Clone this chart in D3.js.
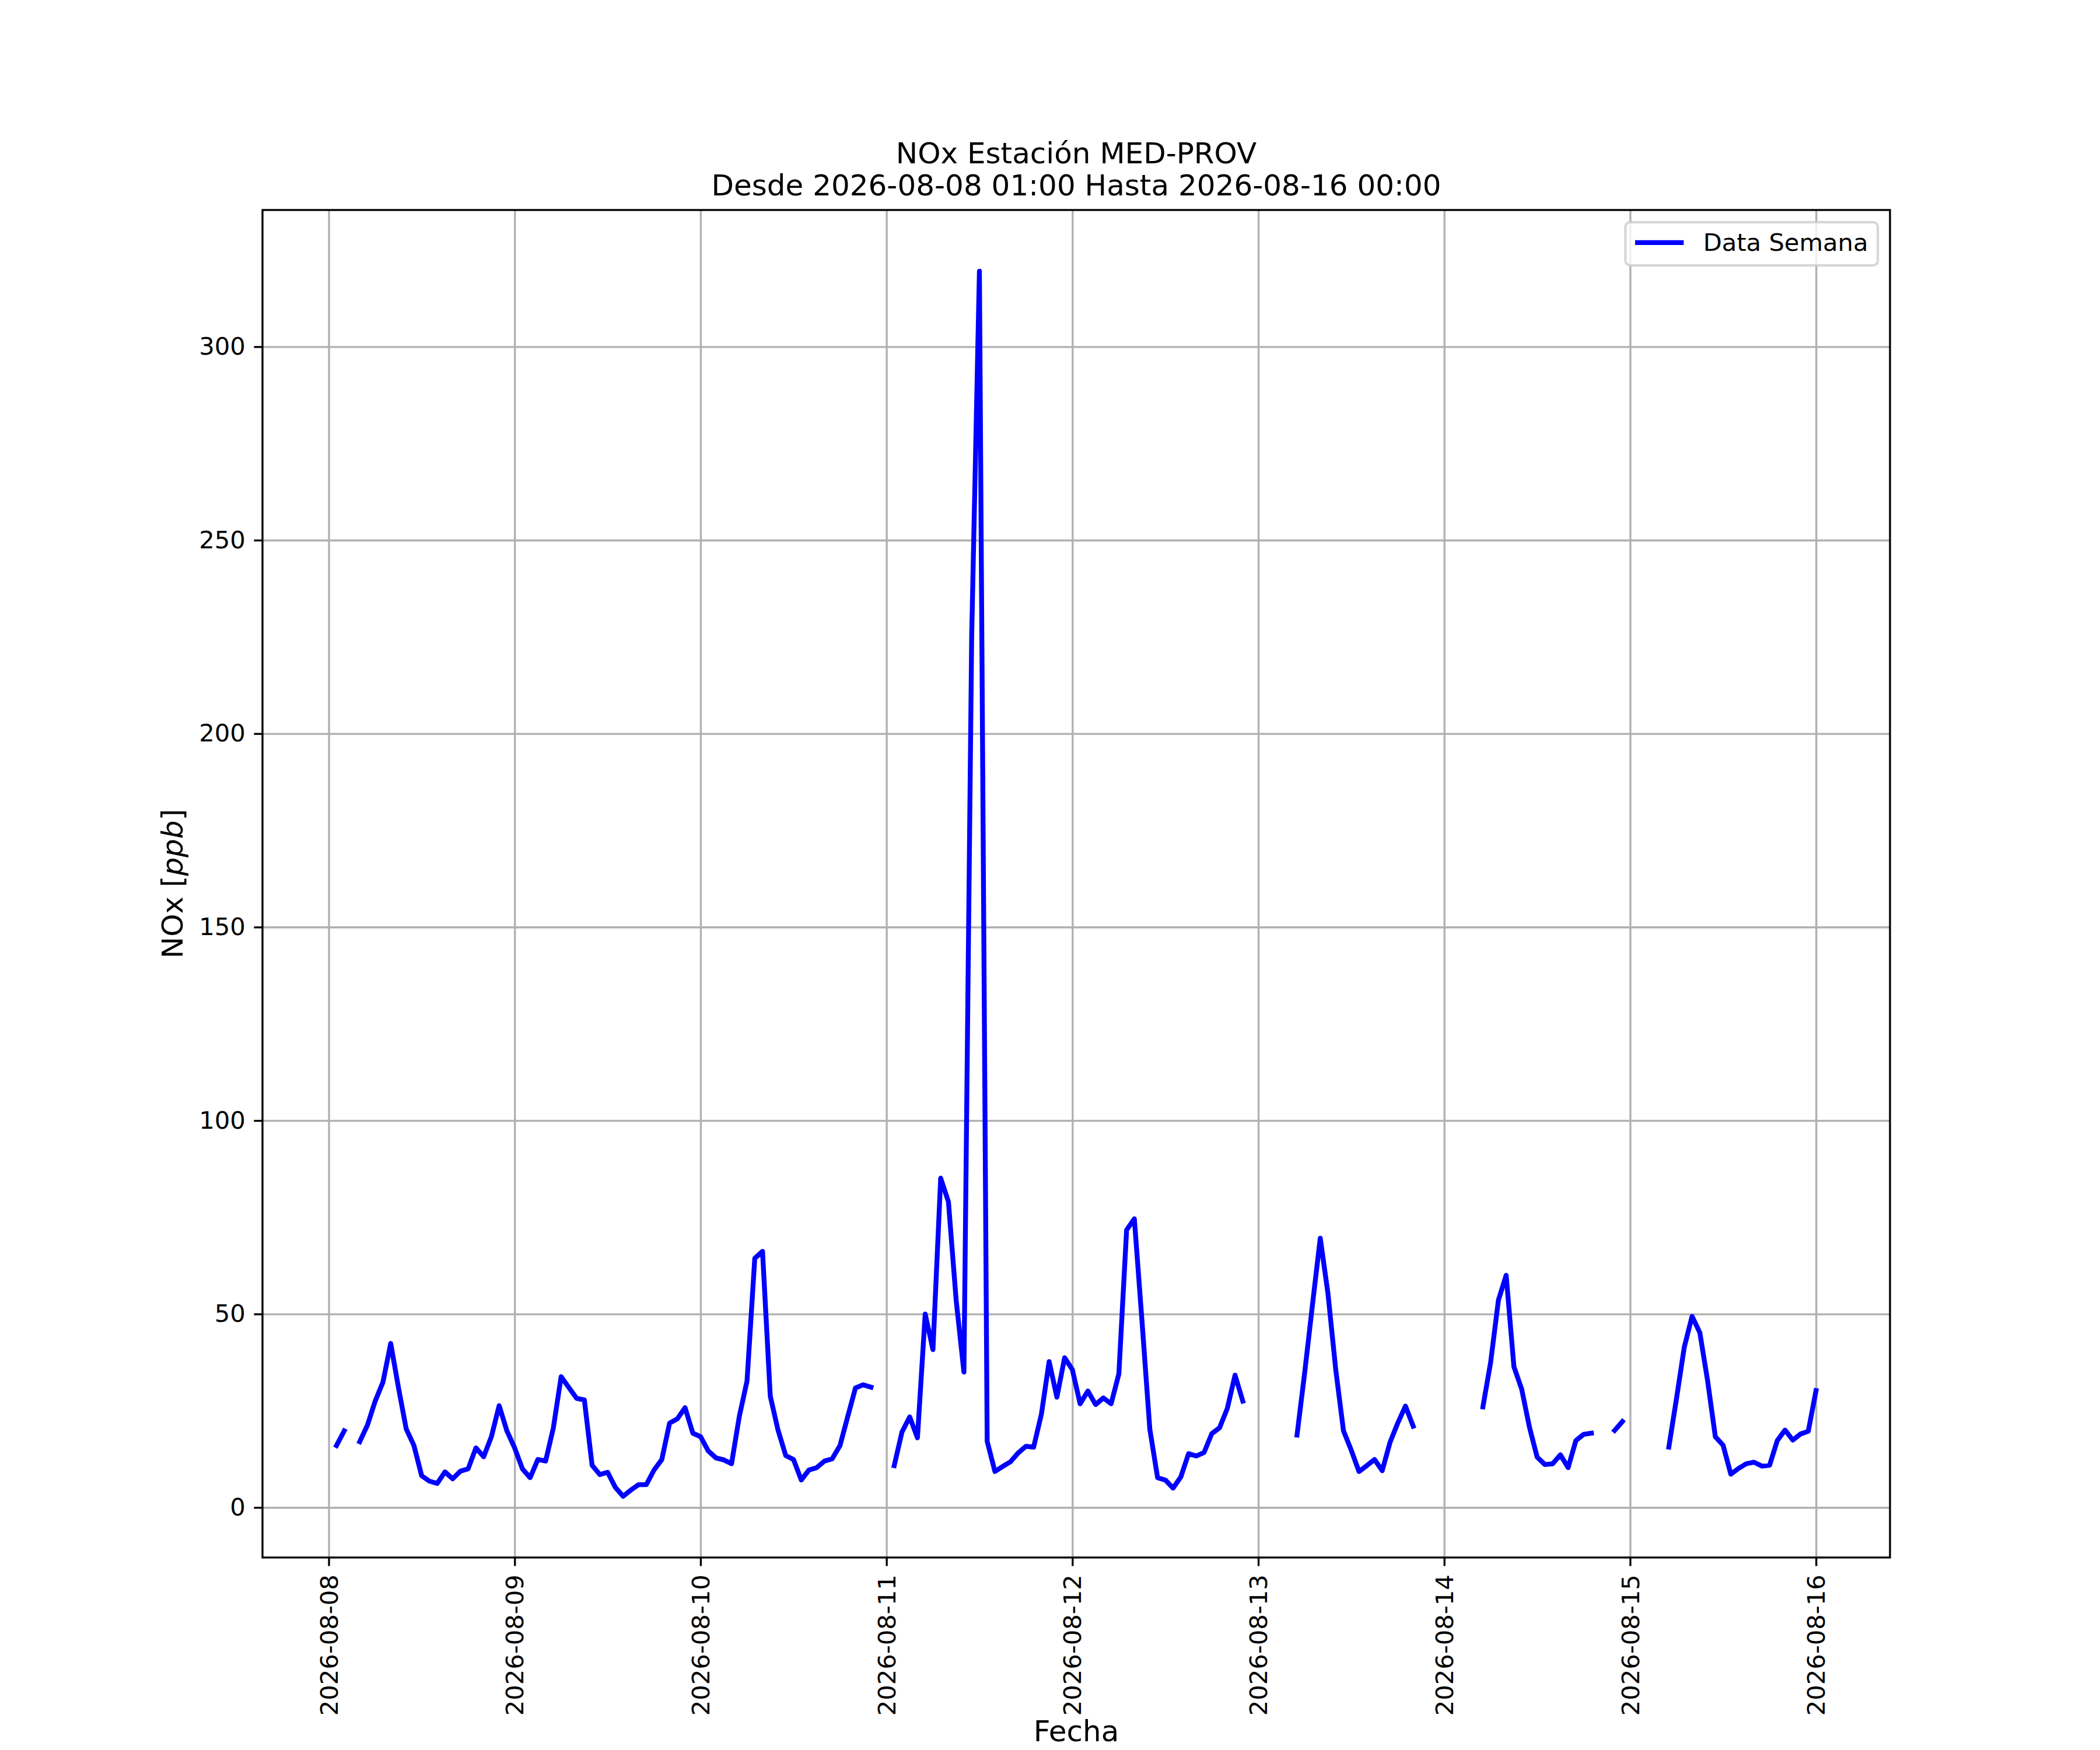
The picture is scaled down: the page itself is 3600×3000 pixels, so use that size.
<!DOCTYPE html>
<html>
<head>
<meta charset="utf-8">
<script src="https://cdn.jsdelivr.net/npm/d3@7"></script>
<style>
  body { margin: 0; background: #fff; }
  text { font-family: "DejaVu Sans", sans-serif; fill: #000; }
</style>
</head>
<body>
<div class="nox-chart"></div>
<script>
// hourly readings, first one at 2026-08-08 01:00, last at 2026-08-16 00:00
// null = no data for that hour
var firstHour = "2026-08-08T01:00:00Z";
var nox = [
  16.0, 19.8, null, 17.0, 21.3, 27.5, 32.4, 42.4, 31.0, 20.3, 16.0, 8.2,
  6.8, 6.2, 9.2, 7.4, 9.4, 10.0, 15.4, 13.1, 18.3, 26.3, 19.8, 15.4,
  10.0, 7.7, 12.4, 12.0, 20.6, 33.8, 31.0, 28.2, 27.8, 10.9, 8.5, 9.1,
  5.2, 2.9, 4.5, 5.9, 5.9, 9.7, 12.4, 21.8, 22.9, 25.8, 19.2, 18.3,
  14.6, 12.8, 12.3, 11.3, 23.5, 32.7, 64.4, 66.2, 28.8, 20.0, 13.4, 12.4,
  7.1, 9.7, 10.3, 12.0, 12.6, 16.0, 23.5, 30.9, 31.7, 31.1, null, null,
  10.8, 19.5, 23.4, 18.0, 50.0, 40.8, 85.1, 79.0, 53.5, 35.0, 225.0, 319.5,
  17.1, 9.3, 10.6, 11.8, 14.1, 15.8, 15.6, 24.1, 37.7, 28.5, 38.7, 35.6,
  26.8, 30.1, 26.6, 28.3, 26.8, 34.5, 71.7, 74.6, 47.8, 20.2, 7.7, 7.1,
  5.0, 7.9, 13.9, 13.3, 14.2, 19.1, 20.6, 25.6, 34.2, 27.5, null, null,
  null, null, null, null, 18.7, 35.0, 52.5, 69.6, 55.2, 35.6, 19.8, 14.8,
  9.3, 10.8, 12.4, 9.5, 16.8, 21.8, 26.2, 21.0, null, null, null, null,
  null, null, null, null, 26.0, 37.6, 53.6, 60.0, 36.4, 30.6, 20.8, 13.0,
  11.1, 11.3, 13.6, 10.3, 17.3, 18.9, 19.2, null, null, 19.9, 22.2, null,
  null, null, null, null, 15.6, 28.3, 41.5, 49.4, 45.2, 32.8, 18.3, 16.1,
  8.6, 10.1, 11.3, 11.7, 10.7, 10.9, 17.3, 20.0, 17.4, 19.0, 19.7, 30.2
];
var yTicks = [0, 50, 100, 150, 200, 250, 300];
var dayTicks = ["2026-08-08", "2026-08-09", "2026-08-10", "2026-08-11", "2026-08-12",
                "2026-08-13", "2026-08-14", "2026-08-15", "2026-08-16"];
var titleLines = ["NOx Estación MED-PROV", "Desde 2026-08-08 01:00 Hasta 2026-08-16 00:00"];
var seriesName = "Data Semana";

var width = 3600;
var height = 3000;
// matplotlib default subplot box
var plotLeft = 450, plotRight = 3240, plotTop = 360, plotBottom = 2670;
var pt = 300 / 72;

var start = new Date(firstHour);
var data = nox.map(function(v, i) {
  return { t: d3.utcHour.offset(start, i), v: v };
});

var svg = d3.select(".nox-chart")
            .append("svg")
              .attr("width", width)
              .attr("height", height);

// 5% margins like matplotlib autoscale
var tExt = d3.extent(data, function(d) { return d.t; });
var tPad = (tExt[1] - tExt[0]) * 0.05;
var xScale = d3.scaleUtc()
               .domain([new Date(+tExt[0] - tPad), new Date(+tExt[1] + tPad)])
               .range([plotLeft, plotRight]);

var vExt = d3.extent(data.filter(function(d) { return d.v != null; }), function(d) { return d.v; });
var vPad = (vExt[1] - vExt[0]) * 0.05;
var yScale = d3.scaleLinear()
               .domain([vExt[0] - vPad, vExt[1] + vPad])
               .range([plotBottom, plotTop]);

var dayDates = dayTicks.map(function(s) { return new Date(s + "T00:00:00Z"); });

// grid
svg.append("g")
  .attr("transform", "translate(0," + plotBottom + ")")
  .call(d3.axisBottom(xScale).tickValues(dayDates).tickSize(-(plotBottom - plotTop)).tickFormat(""))
  .call(function(g) { g.select(".domain").remove(); })
  .selectAll("line")
    .attr("stroke", "#b0b0b0")
    .attr("stroke-width", 0.8 * pt);

svg.append("g")
  .attr("transform", "translate(" + plotLeft + ",0)")
  .call(d3.axisLeft(yScale).tickValues(yTicks).tickSize(-(plotRight - plotLeft)).tickFormat(""))
  .call(function(g) { g.select(".domain").remove(); })
  .selectAll("line")
    .attr("stroke", "#b0b0b0")
    .attr("stroke-width", 0.8 * pt);

// the series
var line = d3.line()
  .defined(function(d) { return d.v != null; })
  .x(function(d) { return xScale(d.t); })
  .y(function(d) { return yScale(d.v); });

svg.append("path")
  .datum(data)
  .attr("d", line)
  .attr("fill", "none")
  .attr("stroke", "#0000ff")
  .attr("stroke-width", 2 * pt)
  .attr("stroke-linejoin", "round")
  .attr("stroke-linecap", "square");

// frame
svg.append("rect")
  .attr("x", plotLeft)
  .attr("y", plotTop)
  .attr("width", plotRight - plotLeft)
  .attr("height", plotBottom - plotTop)
  .attr("fill", "none")
  .attr("stroke", "#000")
  .attr("stroke-width", 0.8 * pt);

var tickLen = 3.5 * pt;
var tickFont = 10 * pt;

// x axis
var xAxis = svg.append("g")
  .attr("transform", "translate(0," + plotBottom + ")")
  .call(d3.axisBottom(xScale)
          .tickValues(dayDates)
          .tickSizeInner(tickLen)
          .tickSizeOuter(0)
          .tickPadding(tickLen)
          .tickFormat(d3.utcFormat("%Y-%m-%d")));
xAxis.select(".domain").remove();
xAxis.selectAll("line").attr("stroke", "#000").attr("stroke-width", 0.8 * pt);
xAxis.selectAll("text")
  .attr("font-size", tickFont)
  .attr("font-family", "DejaVu Sans")
  .attr("text-anchor", "end")
  .attr("x", 0)
  .attr("y", 0)
  .attr("dy", "0.35em")
  .attr("transform", "translate(0," + (2 * tickLen) + ") rotate(-90)");

// y axis
var yAxis = svg.append("g")
  .attr("transform", "translate(" + plotLeft + ",0)")
  .call(d3.axisLeft(yScale)
          .tickValues(yTicks)
          .tickSizeInner(tickLen)
          .tickSizeOuter(0)
          .tickPadding(tickLen)
          .tickFormat(d3.format("d")));
yAxis.select(".domain").remove();
yAxis.selectAll("line").attr("stroke", "#000").attr("stroke-width", 0.8 * pt);
yAxis.selectAll("text")
  .attr("font-size", tickFont)
  .attr("font-family", "DejaVu Sans");

// axis labels
svg.append("text")
  .attr("x", (plotLeft + plotRight) / 2)
  .attr("y", 2985)
  .attr("text-anchor", "middle")
  .attr("font-size", 12 * pt)
  .text("Fecha");

var yLabel = svg.append("text")
  .attr("transform", "translate(313," + ((plotTop + plotBottom) / 2) + ") rotate(-90)")
  .attr("text-anchor", "middle")
  .attr("font-size", 12 * pt);
yLabel.append("tspan").text("NOx [");
yLabel.append("tspan").attr("font-style", "italic").text("ppb");
yLabel.append("tspan").text("]");

// title
svg.selectAll(".title")
  .data(titleLines)
  .enter()
  .append("text")
  .attr("class", "title")
  .attr("x", (plotLeft + plotRight) / 2)
  .attr("y", function(d, i) { return 280 + i * 55; })
  .attr("text-anchor", "middle")
  .attr("font-size", 12 * pt)
  .text(function(d) { return d; });

// legend, upper right
var fs = 10 * pt;
var legend = svg.append("g");
var box = legend.append("rect");
var legText = legend.append("text")
  .attr("font-size", fs)
  .text(seriesName);
var textW = legText.node().getComputedTextLength();
var pad = 0.4 * fs, handle = 2 * fs, gap = 0.8 * fs;
var boxW = pad + handle + gap + textW + pad;
var boxH = 2 * pad + 0.98 * fs;
var bx = plotRight - 0.5 * fs - boxW;
var by = plotTop + 0.5 * fs;
box.attr("x", bx)
   .attr("y", by)
   .attr("width", boxW)
   .attr("height", boxH)
   .attr("rx", 0.2 * fs)
   .attr("fill", "#fff")
   .attr("fill-opacity", 0.8)
   .attr("stroke", "#cccccc")
   .attr("stroke-opacity", 0.8)
   .attr("stroke-width", 1 * pt);
legend.append("line")
  .attr("x1", bx + pad)
  .attr("x2", bx + pad + handle)
  .attr("y1", by + pad + 0.44 * fs)
  .attr("y2", by + pad + 0.44 * fs)
  .attr("stroke", "#0000ff")
  .attr("stroke-width", 2 * pt);
legText.attr("x", bx + pad + handle + gap)
       .attr("y", by + pad + 0.77 * fs);
</script>
</body>
</html>
